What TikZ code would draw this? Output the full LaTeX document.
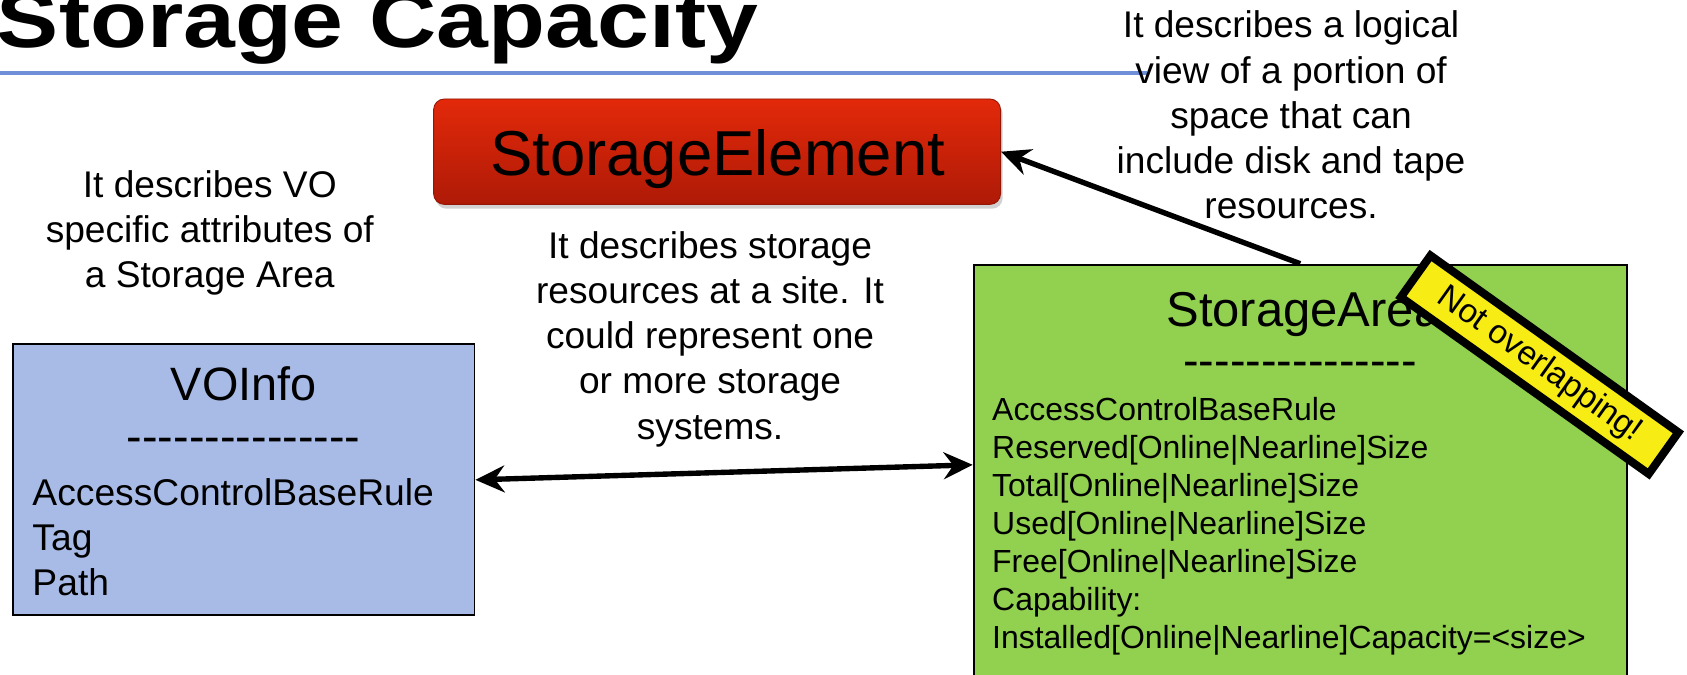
\documentclass[tikz,border=0pt]{standalone}
\usepackage{fontspec}
\setmainfont{Liberation Sans}
\newfontfamily\titlefont{Liberation Sans Bold}[FakeStretch=1.17]
\usetikzlibrary{arrows.meta,shadows}
\definecolor{voblue}{HTML}{A8BBE7}
\definecolor{sagreen}{HTML}{92D050}
\definecolor{setop}{HTML}{E3290A}
\definecolor{sebot}{HTML}{AE1A07}
\definecolor{rulecol}{HTML}{6F8FD8}
\definecolor{notey}{HTML}{F7EC13}
\newcommand{\hyphenrow}{-{}-{}-{}-{}-{}-{}-{}-{}-{}-{}-{}-{}-{}-{}-}
\begin{document}
\begin{tikzpicture}[x=1pt,y=-1pt,
  desc/.style={font=\fontsize{34.5}{42}\selectfont, align=center, inner sep=0pt, anchor=north},
  classbox/.style={draw=black, line width=1.8pt, inner sep=0pt},
  classtitle/.style={font=\fontsize{43.5}{46}\selectfont, inner sep=0pt, anchor=base},
  sebox/.style={rounded corners=10pt, top color=setop, bottom color=sebot, draw=sebot!85!black, line width=0.8pt,
     drop shadow={opacity=0.35, shadow xshift=2pt, shadow yshift=-4pt}, inner sep=0pt},
  conn/.style={line width=5pt, draw=black},
  bigtip/.tip={Stealth[length=27pt, width=25pt, inset=9pt]},
  notebox/.style={draw=black, fill=notey, line width=7.5pt, inner sep=0pt, font=\fontsize{31}{33}\selectfont}
]
\clip (0,0) rectangle (1568,627);
\fill[white] (0,0) rectangle (1568,627);

% title and rule
\node[anchor=base west, inner sep=0pt, font=\titlefont\fontsize{74}{80}\selectfont] (title) at (-3,44) {Storage Capacity};
\draw[rulecol, line width=4pt] (0,68) -- (1066,68);

% descriptions
\node[desc] (descvo) at (195,158) {It describes VO\\specific attributes of\\a Storage Area};
\node[desc] (descse) at (660,215) {It describes storage\\resources at a site. It\\could represent one\\or more storage\\systems.};
\node[desc] (descsa) at (1200,10) {It describes a logical\\view of a portion of\\space that can\\include disk and tape\\resources.};

% StorageElement
\node[sebox, minimum width=527pt, minimum height=98pt] (se) at (666.5,141) {};
\node[font=\fontsize{59}{60}\selectfont, inner sep=0pt, anchor=base] (setext) at (667,163) {StorageElement};

% VOInfo
\node[classbox, fill=voblue, minimum width=429pt, minimum height=252pt] (vo) at (226.5,446) {};
\node[classtitle] (votitle) at (226.5,372) {VOInfo};
\node[classtitle] (vodash) at (226.5,421) {\hyphenrow};
\node[font=\fontsize{34.6}{41.5}\selectfont, align=left, inner sep=0pt, anchor=north west] (vobody) at (30,445)
  {AccessControlBaseRule\\Tag\\Path};

% StorageArea
\node[classbox, fill=sagreen, minimum width=607pt, minimum height=404pt] (sa) at (1208.5,448) {};
\node[classtitle, anchor=base west, font=\fontsize{45.5}{48}\selectfont] (satitle) at (1084,303) {StorageArea};
\node[classtitle] (sadash) at (1208.5,350) {\hyphenrow};
\node[font=\fontsize{29.7}{35.33}\selectfont, align=left, inner sep=0pt, anchor=north west] (sabody) at (922,369.5)
  {AccessControlBaseRule\\Reserved[Online|Nearline]Size\\Total[Online|Nearline]Size\\Used[Online|Nearline]Size\\Free[Online|Nearline]Size\\Capability:\\Installed[Online|Nearline]Capacity=<size>};

% connectors
\draw[conn, -{bigtip}] (sa.north) -- (se.east);
\draw[conn, {bigtip}-{bigtip}] (vo.east) -- (sa.177.9);

% note
\node[notebox, rotate=-35.5, minimum width=283pt, minimum height=47.5pt] (note) at (1431,339) {Not overlapping!};
\end{tikzpicture}
\end{document}
